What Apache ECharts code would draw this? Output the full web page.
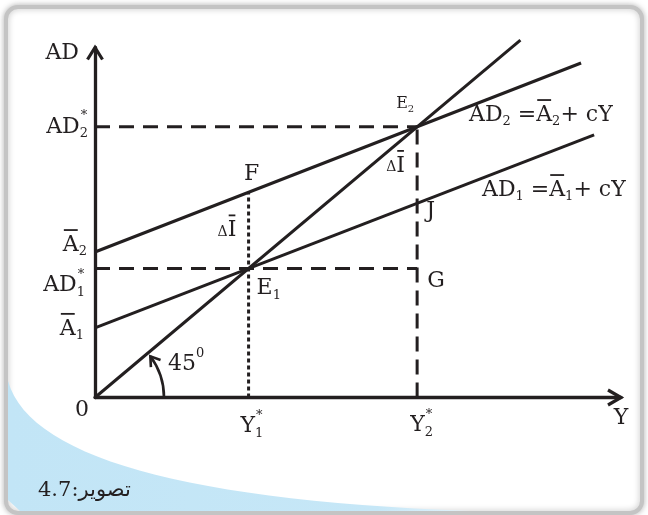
<!DOCTYPE html>
<html>
<head>
<meta charset="utf-8">
<title>AD shift</title>
<script src="https://cdn.jsdelivr.net/npm/echarts@6/dist/echarts.min.js"></script>
<style>
  html, body { margin: 0; padding: 0; background: #fff; }
  #main { width: 648px; height: 515px; }
</style>
</head>
<body>
<div id="main"></div>
<script>
// values (data units, Y on x axis, AD on y axis)
var xMax = 13.7, yMax = 10.85;
var yStar = [4.0, 8.39];                 // Y1*, Y2* (= AD1*, AD2*)
var aBar = [2.16, 4.51];                 // A1, A2 intercepts
var ad1End = [13.0, 8.14];
var ad2End = [12.66, 10.37];
var line45End = [11.08, 11.08];
var pointF = [4.0, 6.36];
var pointJ = [8.39, 6.02];

var ink = '#231f20';
var FONT = '"DejaVu Serif", "DejaVu Sans", serif';
var chart = echarts.init(document.getElementById('main'));

function seg(name, a, b, type, w) {
  return {
    name: name, type: 'line', data: [a, b], showSymbol: false, silent: true, clip: false,
    lineStyle: { color: ink, width: w || 3, type: type || 'solid' }, z: 3
  };
}

var option = {
  animation: false,
  grid: { left: 95, top: 47.5, right: 27, bottom: 117.5 },
  xAxis: {
    type: 'value', min: 0, max: xMax,
    axisLine: { show: true, lineStyle: { color: ink, width: 3.3 } },
    axisTick: { show: false }, axisLabel: { show: false }, splitLine: { show: false }
  },
  yAxis: {
    type: 'value', min: 0, max: yMax,
    axisLine: { show: true, lineStyle: { color: ink, width: 3.3 } },
    axisTick: { show: false }, axisLabel: { show: false }, splitLine: { show: false }
  },
  series: [
    seg('45', [0, 0], line45End),
    seg('AD1', [0, aBar[0]], ad1End),
    seg('AD2', [0, aBar[1]], ad2End),
    seg('h1', [0, yStar[0]], [yStar[1], yStar[0]], [15, 9], 3),
    seg('h2', [0, yStar[1]], [yStar[1], yStar[1]], [15, 9], 3),
    seg('v1', [yStar[0], 0], pointF, [4, 3], 3),
    seg('v2', [yStar[1], 0], [yStar[1], yStar[1]], [15, 8], 3)
  ]
};
chart.setOption(option);

function px(p) { return chart.convertToPixel({ gridIndex: 0 }, p); }

var cv = document.createElement('canvas').getContext('2d');
function tw(s, size) { cv.font = size + 'px ' + FONT; return cv.measureText(s).width; }

function txt(x, y, s, size, align) {
  return {
    type: 'text', x: x, y: y, z: 10, silent: true,
    style: { text: s, font: size + 'px ' + FONT, fill: ink,
      textAlign: align || 'left', textVerticalAlign: 'middle', align: align || 'left', verticalAlign: 'middle' }
  };
}

// parts: [text, kind]; kind n normal, b barred, s subscript, S stacked superscript, u superscript, d small
function seq(x0, yc, parts, size, align) {
  size = size || 22;
  var small = Math.round(size * 0.6);
  var total = 0;
  parts.forEach(function (p) {
    var k = p[1] || 'n';
    if (k === 'S') return;
    total += tw(p[0], (k === 'n' || k === 'b') ? size : (k === 'd' ? Math.round(size * 0.65) : small));
  });
  var x = align === 'right' ? x0 - total : x0;
  var lastX = x, els = [];
  parts.forEach(function (p) {
    var k = p[1] || 'n';
    var fs = (k === 'n' || k === 'b') ? size : (k === 'd' ? Math.round(size * 0.65) : small);
    var dy = k === 's' ? size * 0.32 : (k === 'S' || k === 'u') ? -size * 0.5 : (k === 'd' ? size * 0.08 : 0);
    var xx = k === 'S' ? lastX + 1 : x;
    els.push(txt(xx, yc + dy, p[0], fs));
    var w = tw(p[0], fs);
    if (k === 'b') {
      els.push({ type: 'line', z: 10, silent: true,
        shape: { x1: xx + 1, y1: yc - size * 0.68, x2: xx + w - 1, y2: yc - size * 0.68 },
        style: { stroke: ink, lineWidth: 1.8 } });
    }
    if (k !== 'S') { lastX = x; x += w; }
  });
  return els;
}

var O = px([0, 0]);
var T = px([0, yMax]);
var R = px([xMax, 0]);
var E1 = px([yStar[0], yStar[0]]);
var E2 = px([yStar[1], yStar[1]]);
var F = px(pointF);
var J = px(pointJ);
var G = px([yStar[1], yStar[0]]);
var A1 = px([0, aBar[0]]);
var A2 = px([0, aBar[1]]);

var g = [];
// frame and blue corner
g.push({ type: 'rect', z: -10, silent: true,
  shape: { x: 6, y: 7, width: 636, height: 506, r: 12 },
  style: { fill: '#fff', stroke: '#c4c4c4', lineWidth: 4, shadowBlur: 6, shadowColor: 'rgba(0,0,0,0.25)' } });
var blue = [];
for (var i = 0; i <= 30; i++) {
  var t = i / 30, u = 1 - t;
  blue.push([u * u * 8 + 2 * u * t * 40 + t * t * 470, u * u * 381 + 2 * u * t * 495 + t * t * 511]);
}
blue.push([20, 511]);
blue.push([8, 500]);
g.push({ type: 'polygon', z: -9, silent: true, shape: { points: blue },
  style: { fill: new echarts.graphic.LinearGradient(0, 0, 1, 0, [
    { offset: 0, color: '#c2e5f6' }, { offset: 0.8, color: '#c6e7f7' }, { offset: 1, color: '#e4f3fb' }]) } });

// axis arrow heads
g.push({ type: 'polyline', z: 5, silent: true,
  shape: { points: [[T[0] - 7.5, T[1] + 12], [T[0], T[1]], [T[0] + 7.5, T[1] + 12]] },
  style: { stroke: ink, lineWidth: 3.2, fill: null } });
g.push({ type: 'polyline', z: 5, silent: true,
  shape: { points: [[R[0] - 13, R[1] - 7.5], [R[0], R[1]], [R[0] - 13, R[1] + 7.5]] },
  style: { stroke: ink, lineWidth: 3.2, fill: null } });

// 45 degree arc arrow
var rr = 69, th = 0.64;
g.push({ type: 'arc', z: 5, silent: true,
  shape: { cx: O[0], cy: O[1], r: rr, startAngle: 0, endAngle: -th, clockwise: false },
  style: { stroke: ink, lineWidth: 2.6, fill: null } });
var tip = [O[0] + rr * Math.cos(th), O[1] - rr * Math.sin(th)];
var bk = [Math.sin(th), Math.cos(th)], pp = [Math.cos(th), -Math.sin(th)];
g.push({ type: 'polyline', z: 5, silent: true,
  shape: { points: [[tip[0] + 9 * bk[0] + 6 * pp[0], tip[1] + 9 * bk[1] + 6 * pp[1]], tip,
    [tip[0] + 9 * bk[0] - 6 * pp[0], tip[1] + 9 * bk[1] - 6 * pp[1]]] },
  style: { stroke: ink, lineWidth: 2.6, fill: null } });

// text
g = g.concat(seq(T[0] - 16, T[1] + 6, [['AD']], 22, 'right'));
g = g.concat(seq(O[0] - 7, E2[1], [['AD'], ['2', 's'], ['*', 'S']], 22, 'right'));
g = g.concat(seq(O[0] - 8, A2[1] - 7, [['A', 'b'], ['2', 's']], 22, 'right'));
g = g.concat(seq(O[0] - 10, E1[1] + 17, [['AD'], ['1', 's'], ['*', 'S']], 22, 'right'));
g = g.concat(seq(O[0] - 11, A1[1] + 1, [['A', 'b'], ['1', 's']], 22, 'right'));
g.push(txt(O[0] - 13, O[1] + 13, '0', 22, 'center'));
g = g.concat(seq(E1[0] - 8, O[1] + 29, [['Y'], ['1', 's'], ['*', 'S']], 22));
g = g.concat(seq(E2[0] - 7, O[1] + 28, [['Y'], ['2', 's'], ['*', 'S']], 22));
g.push(txt(R[0], O[1] + 21, 'Y', 22, 'center'));
g.push(txt(F[0] + 3, F[1] - 18, 'F', 22, 'center'));
g = g.concat(seq(F[0] - 31, F[1] + 38, [['\u0394', 'd'], ['I', 'b']], 22));
g = g.concat(seq(E1[0] + 8, E1[1] + 20, [['E'], ['1', 's']], 22));
g = g.concat(seq(E2[0] - 21, E2[1] - 23, [['E'], ['2', 's']], 16));
g = g.concat(seq(E2[0] - 31, E2[1] + 39, [['\u0394', 'd'], ['I', 'b']], 22));
g = g.concat(seq(469, 115, [['AD'], ['2', 's'], [' ='], ['A', 'b'], ['2', 's'], ['+ cY']], 22));
g = g.concat(seq(482, 190, [['AD'], ['1', 's'], [' ='], ['A', 'b'], ['1', 's'], ['+ cY']], 22));
g.push(txt(J[0] + 9, J[1] + 8, 'J', 22));
g.push(txt(G[0] + 10, G[1] + 13, 'G', 22));
g = g.concat(seq(O[0] + 73, O[1] - 33, [['45'], ['0', 'u']], 22));
g.push({ type: 'text', x: 38, y: 491, z: 10, silent: true,
  style: { text: '\u062a\u0635\u0648\u06cc\u0631:4.7', font: '21px ' + FONT, fill: ink,
    textAlign: 'left', textVerticalAlign: 'middle', align: 'left', verticalAlign: 'middle' } });

chart.setOption({ graphic: { elements: g } });
</script>
</body>
</html>
